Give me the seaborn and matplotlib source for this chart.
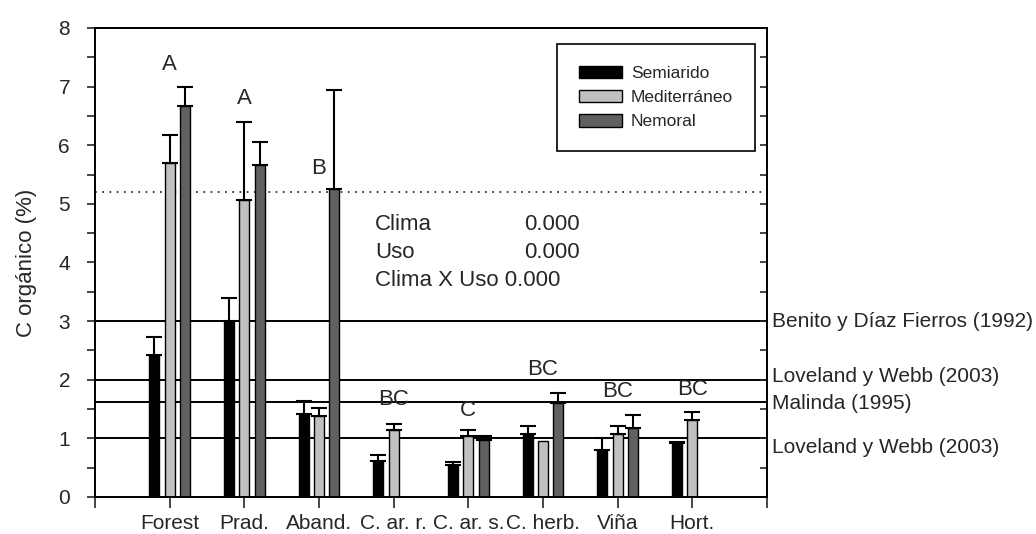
import numpy as np
import pandas as pd
import matplotlib
matplotlib.use("Agg")
import matplotlib.pyplot as plt
import matplotlib.transforms as mtransforms
import seaborn as sns

# ─── Data ───────────────────────────────────────────────────────────────────
usos = ['Forest', 'Prad.', 'Aband.', 'C. ar. r.', 'C. ar. s.', 'C. herb.', 'Viña', 'Hort.']
climas = ['Semiarido', 'Mediterráneo', 'Nemoral']

semiarido = [2.42, 3.00, 1.42, 0.61, 0.55, 1.07, 0.81, 0.92]
semiarido_top = [2.73, 3.40, 1.64, 0.71, 0.60, 1.21, 1.01, 0.94]

mediterraneo = [5.70, 5.07, 1.38, 1.14, 1.04, 0.96, 1.07, 1.31]
mediterraneo_top = [6.17, 6.39, 1.51, 1.24, 1.14, np.nan, 1.21, 1.45]

nemoral = [6.67, 5.67, 5.26, np.nan, 0.97, 1.60, 1.18, np.nan]
nemoral_top = [7.00, 6.06, 6.94, np.nan, 1.04, 1.78, 1.40, np.nan]

letras = ['A', 'A', 'B', 'BC', 'C', 'BC', 'BC', 'BC']
letras_y = [7.37, 6.80, 5.60, 1.67, 1.48, 2.17, 1.80, 1.83]

ref_valores = [3.0, 2.0, 1.62, 1.0]
ref_textos = ['Benito y Díaz Fierros (1992)', 'Loveland y Webb (2003)',
              'Malinda (1995)', 'Loveland y Webb (2003)']
ref_texto_y = [3.0, 2.05, 1.60, 0.84]

umbral = 5.2
anova_filas = ['Clima', 'Uso', 'Clima X Uso']
anova_p = ['0.000', '0.000', '0.000']
anova_y = [4.64, 4.17, 3.70]

colores = ['#000000', '#c0c0c0', '#606060']

# ─── Long table for seaborn ─────────────────────────────────────────────────
rows = []
for clima, vals, tops in zip(climas, [semiarido, mediterraneo, nemoral],
                             [semiarido_top, mediterraneo_top, nemoral_top]):
    for uso, v, t in zip(usos, vals, tops):
        if not np.isnan(v):
            rows.append({'Uso': uso, 'Clima': clima, 'C': v, 'top': t})
df = pd.DataFrame(rows)

sns.set_style('ticks')
plt.rcParams['font.family'] = ['Liberation Sans', 'DejaVu Sans']

fig = plt.figure(figsize=(10.36, 5.34), dpi=100)
ax = fig.add_axes([0.0917, 0.0693, 0.6486, 0.8783])

# ── reference lines behind the bars ───────────────────────────────────────
for v in ref_valores:
    ax.axhline(v, color='black', lw=1.4, zorder=1)
ax.axhline(umbral, color='#333333', lw=1.3, ls=(0, (1, 3)), zorder=1)

sns.barplot(data=df, x='Uso', y='C', hue='Clima', order=usos, hue_order=climas,
            palette=colores, width=0.615, gap=0.35, errorbar=None,
            edgecolor='black', linewidth=1.0, ax=ax, zorder=2, legend=True)

# ── one-sided error bars from the drawn bars ──────────────────────────────
for clima, cont in zip(climas, ax.containers):
    sub = df[df['Clima'] == clima]
    for bar in cont:
        h = bar.get_height()
        if not np.isfinite(h):
            continue
        xc = bar.get_x() + bar.get_width() / 2
        uso = usos[int(round(xc))]
        top = sub.loc[sub['Uso'] == uso, 'top'].values[0]
        if np.isnan(top):
            continue
        ax.errorbar(xc, h, yerr=[[0], [top - h]], fmt='none', ecolor='black',
                    elinewidth=1.5, capsize=6, capthick=1.5, zorder=3)

# ── significance letters ──────────────────────────────────────────────────
for i, (l, y) in enumerate(zip(letras, letras_y)):
    ax.text(i, y, l, ha='center', va='center', fontsize=16)

# ── ANOVA table (last row is a single run of text in the original) ────────
for j, (f, p, y) in enumerate(zip(anova_filas, anova_p, anova_y)):
    if j < 2:
        ax.text(2.75, y, f, ha='left', va='center', fontsize=16)
        ax.text(5.49, y, p, ha='right', va='center', fontsize=16)
    else:
        ax.text(2.75, y, f'{f} {p}', ha='left', va='center', fontsize=16)

# ── labels for reference lines on the right ───────────────────────────────
trans = mtransforms.blended_transform_factory(ax.transAxes, ax.transData)
for t, y in zip(ref_textos, ref_texto_y):
    ax.text(1.008, y, t, transform=trans, ha='left', va='center',
            fontsize=15, clip_on=False)

# ── axes ──────────────────────────────────────────────────────────────────
ax.set_xlim(-1, 8)
ax.set_ylim(0, 8)
ax.set_xticks(range(-1, 9))
ax.set_xticklabels([''] + usos + [''], fontsize=15)
ax.set_yticks(range(0, 9))
ax.set_yticks(np.arange(0.5, 8, 1.0), minor=True)
ax.tick_params(axis='y', which='both', direction='out', length=6, width=1.2,
               labelsize=15, pad=12)
ax.tick_params(axis='x', direction='out', length=8, width=1.2, pad=4)
ax.set_xlabel('')
ax.set_ylabel('C orgánico (%)', fontsize=16, labelpad=15)
for s in ax.spines.values():
    s.set_visible(True)
    s.set_linewidth(1.3)
    s.set_color('black')

ax2 = ax.twinx()
ax2.set_ylim(0, 8)
ax2.set_yticks(np.arange(0, 8.5, 0.5))
ax2.tick_params(axis='y', direction='in', length=5, width=1.2, labelright=False)
for s in ax2.spines.values():
    s.set_linewidth(1.3)
    s.set_color('black')

leg = ax.legend(loc='upper right', bbox_to_anchor=(0.982, 0.966),
                borderaxespad=0, fontsize=12.5, frameon=True, fancybox=False,
                edgecolor='black', framealpha=1, handlelength=2.5,
                handleheight=0.75, labelspacing=0.5, handletextpad=0.5,
                borderpad=1.25, title=None)
leg.get_frame().set_linewidth(1.2)

fig.savefig('out.png', dpi=100)
